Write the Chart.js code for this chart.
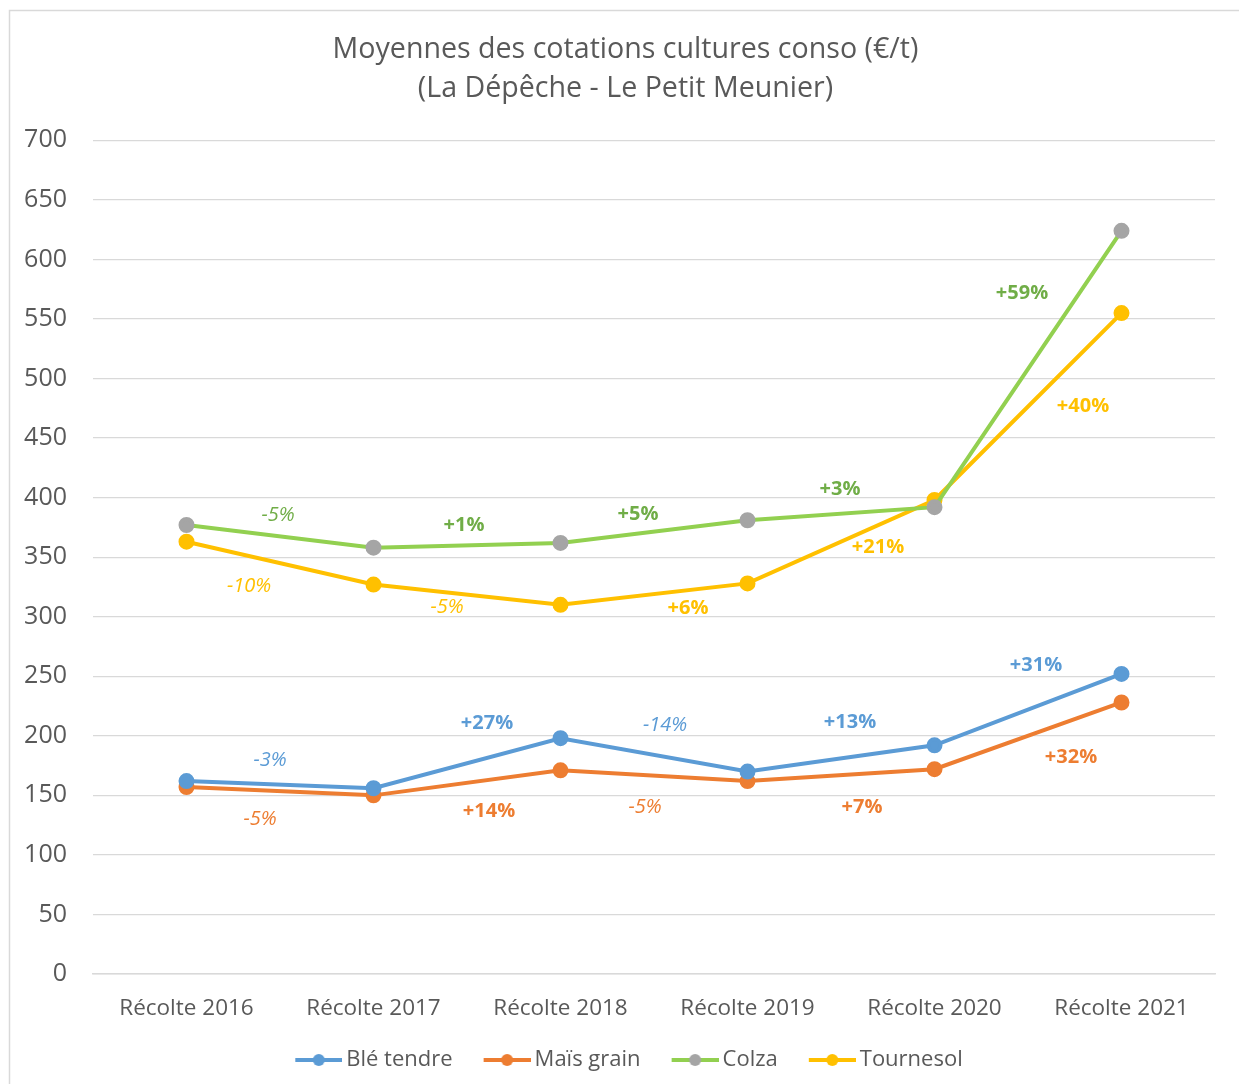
<!DOCTYPE html>
<html lang="fr">
<head>
  <meta charset="UTF-8" />
  <title>Moyennes des cotations cultures conso</title>
  <script src="https://cdn.jsdelivr.net/npm/chart.js"></script>
  <style>
    html, body {
      margin: 0;
      padding: 0;
      background: #fff;
    }
    #chart-container {
      width: 1239px;
      height: 1084px;
    }
  </style>
</head>
<body>

  <div id="chart-container">
    <canvas id="cotChart"></canvas>
  </div>

  <script>
    const categories = ['Récolte 2016', 'Récolte 2017', 'Récolte 2018', 'Récolte 2019', 'Récolte 2020', 'Récolte 2021'];

    const bleTendre = [162, 156, 198, 170, 192, 252];
    const maisGrain = [157, 150, 171, 162, 172, 228];
    const colza = [377, 358, 362, 381, 392, 624];
    const tournesol = [363, 327, 310, 328, 398, 555];

    // variations d'une récolte à l'autre
    const blePct = ['-3%', '+27%', '-14%', '+13%', '+31%'];
    const maisPct = ['-5%', '+14%', '-5%', '+7%', '+32%'];
    const colzaPct = ['-5%', '+1%', '+5%', '+3%', '+59%'];
    const tournesolPct = ['-10%', '-5%', '+6%', '+21%', '+40%'];

    const yTicks = [0, 50, 100, 150, 200, 250, 300, 350, 400, 450, 500, 550, 600, 650, 700];

    const FONT = "'Open Sans', 'Noto Sans', sans-serif";
    const GREY_TEXT = '#595959';

    // where to put each % label, offset from the segment middle (px)
    const labelOffsets = [
      [[-10, -24], [20, -40], [11, -30], [9, -36], [8, -44]],
      [[-20, 28], [22, 28], [-9, 32], [21, 32], [43, 21]],
      [[-2, -21], [-3, -20], [-16, -17], [-1, -24], [-6, -76]],
      [[-31, 23], [-20, 13], [34, 14], [37, 6], [55, 0]]
    ];
    const labelColors = ['#5B9BD5', '#ED7D31', '#70AD47', '#FFC000'];
    const pctLists = [blePct, maisPct, colzaPct, tournesolPct];

    // legend sample: line with a dot in the middle (blank space on the left = gap between items)
    function legendIcon(lineColor, dotColor) {
      const c = document.createElement('canvas');
      c.width = 71;
      c.height = 14;
      const g = c.getContext('2d');
      g.strokeStyle = lineColor;
      g.lineWidth = 4;
      g.beginPath();
      g.moveTo(24, 7);
      g.lineTo(71, 7);
      g.stroke();
      g.fillStyle = dotColor;
      g.beginPath();
      g.arc(47.5, 7, 6, 0, Math.PI * 2);
      g.fill();
      return c;
    }

    const pctLabels = {
      id: 'pctLabels',
      afterDatasetsDraw(chart) {
        const ctx = chart.ctx;
        ctx.save();
        ctx.textAlign = 'center';
        ctx.textBaseline = 'middle';
        chart.data.datasets.forEach((ds, i) => {
          const pts = chart.getDatasetMeta(i).data;
          pctLists[i].forEach((txt, j) => {
            const a = pts[j], b = pts[j + 1];
            const mx = (a.x + b.x) / 2 + labelOffsets[i][j][0];
            const my = (a.y + b.y) / 2 + labelOffsets[i][j][1];
            const neg = txt.charAt(0) === '-';
            ctx.font = (neg ? 'italic 400 ' : '700 ') + '20px ' + FONT;
            ctx.fillStyle = labelColors[i];
            ctx.fillText(txt, mx, my);
          });
        });
        ctx.restore();
      }
    };

    // title and legend sit a bit right of the canvas centre in the original
    const nudge = {
      id: 'nudge',
      afterLayout(chart) {
        if (chart.titleBlock) chart.titleBlock.left += 26;
        if (chart.legend) chart.legend.left += 16;
      }
    };

    const frame = {
      id: 'frame',
      beforeDraw(chart) {
        const ctx = chart.ctx;
        ctx.save();
        ctx.fillStyle = '#fff';
        ctx.fillRect(0, 0, chart.width, chart.height);
        ctx.strokeStyle = '#d9d9d9';
        ctx.lineWidth = 1.5;
        ctx.strokeRect(9.5, 10.5, chart.width + 20, chart.height + 20);
        ctx.restore();
      }
    };

    function makeSet(label, data, color, pointColor) {
      return {
        label: label,
        data: data,
        borderColor: color,
        backgroundColor: pointColor,
        pointBackgroundColor: pointColor,
        pointBorderColor: pointColor,
        borderWidth: 4,
        pointRadius: 6,
        pointHoverRadius: 6,
        tension: 0,
        pointStyle: 'circle',
        legendIcon: legendIcon(color, pointColor)
      };
    }

    const ctx = document.getElementById('cotChart').getContext('2d');
    const chart = new Chart(ctx, {
      type: 'line',
      data: {
        labels: categories,
        datasets: [
          makeSet('Blé tendre', bleTendre, '#5B9BD5', '#5B9BD5'),
          makeSet('Maïs grain', maisGrain, '#ED7D31', '#ED7D31'),
          makeSet('Colza', colza, '#92D050', '#A5A5A5'),
          makeSet('Tournesol', tournesol, '#FFC000', '#FFC000')
        ]
      },
      options: {
        responsive: true,
        maintainAspectRatio: false,
        animation: false,
        layout: {
          padding: { top: 30, left: 10, right: 24, bottom: 3 }
        },
        plugins: {
          title: {
            display: true,
            text: ['Moyennes des cotations cultures conso (€/t)', '(La Dépêche - Le Petit Meunier)'],
            color: GREY_TEXT,
            font: { family: FONT, size: 28.6, weight: '400', lineHeight: 1.37 },
            padding: { top: 0, bottom: 32 }
          },
          legend: {
            position: 'bottom',
            labels: {
              color: GREY_TEXT,
              font: { family: FONT, size: 22 },
              usePointStyle: true,
              pointStyleWidth: 57,
              boxHeight: 14,
              padding: 14,
              generateLabels(ch) {
                return ch.data.datasets.map((ds, i) => ({
                  text: ds.label,
                  pointStyle: ds.legendIcon,
                  fontColor: GREY_TEXT,
                  datasetIndex: i,
                  lineWidth: 0,
                  strokeStyle: 'transparent',
                  fillStyle: 'transparent'
                }));
              }
            }
          },
          tooltip: { enabled: false }
        },
        scales: {
          x: {
            offset: true,
            grid: { display: false, offset: true },
            border: { color: '#d9d9d9', width: 1.5 },
            ticks: {
              color: GREY_TEXT,
              font: { family: FONT, size: 22.5 },
              padding: 13,
              maxRotation: 0
            }
          },
          y: {
            min: 0,
            max: 700,
            afterBuildTicks(scale) {
              scale.ticks = yTicks.map(v => ({ value: v }));
            },
            afterFit(scale) {
              scale.width = 83;
            },
            grid: { color: '#d9d9d9', lineWidth: 1.2, drawTicks: false },
            border: { display: false },
            ticks: {
              color: GREY_TEXT,
              font: { family: FONT, size: 25 },
              padding: 26
            }
          }
        }
      },
      plugins: [frame, nudge, pctLabels]
    });
  </script>

</body>
</html>
